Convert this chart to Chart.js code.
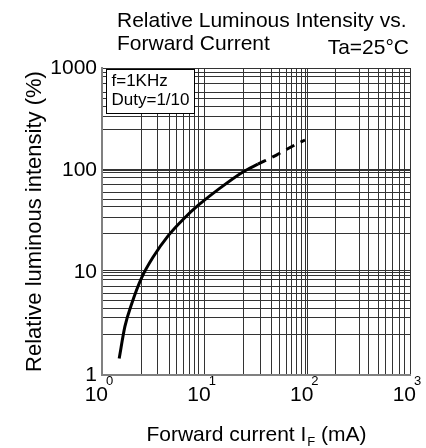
<!DOCTYPE html>
<html>
<head>
<meta charset="utf-8">
<script src="https://cdn.jsdelivr.net/npm/chart.js@4"></script>
<style>
  html, body { margin: 0; padding: 0; background: #fff; }
</style>
</head>
<body>
<canvas id="myChart" width="426" height="448"></canvas>
<script>
// Curve (IF in mA, intensity in %)
const currentSolid = [1.47, 1.67, 1.95, 2.43, 3.16, 4.42, 6.19, 8.67, 13.1, 23.8, 33];
const intensitySolid = [1.45, 2.97, 5.0, 8.9, 14.3, 23.0, 33.3, 45.6, 63.4, 97, 115];
const currentDashed = [33, 50, 70, 95];
const intensityDashed = [115, 141, 170, 198];

// Grid lines as they are drawn on the sheet (not a clean log grid)
const xGrid = [1, 2.42, 3.51, 4.52, 5.34, 6.22, 7.08, 7.92, 8.8, 10,
  23.8, 35, 45, 53, 62, 70, 79, 88, 95, 100,
  189, 325, 398, 495, 574, 677, 785, 886, 1000];
const yGrid = [1, 2.48, 3.61, 4.49, 5.37, 6.29, 7.36, 8.48, 9.43, 10, 10.5,
  23.9, 34.8, 44.2, 52.2, 61.1, 72, 85.6, 95, 100, 103,
  248, 335, 420, 499, 580, 699, 824, 910, 1000];

// Tick labels
const xDecades = [1, 10, 100, 1000];
const xExponents = ['0', '1', '2', '3'];
const yLabels = [1, 10, 100, 1000];

const FONT = '"Liberation Sans", Arial, sans-serif';

const toPoints = (xs, ys) => xs.map((x, i) => ({ x: x, y: ys[i] }));

// Texts that Chart.js can't place on its own (superscripts, subscript, note box)
const sheetText = {
  id: 'sheetText',
  afterDraw(chart) {
    const { ctx, chartArea, scales } = chart;
    ctx.save();
    ctx.fillStyle = '#000';
    ctx.textBaseline = 'middle';

    // heading
    ctx.font = '21px ' + FONT;
    ctx.textAlign = 'left';
    ctx.fillText('Relative Luminous Intensity vs.', 117, 21);
    ctx.fillText('Forward Current', 117, 44);
    ctx.textAlign = 'right';
    ctx.fillText('Ta=25°C', 409, 48);

    // y axis title
    ctx.save();
    ctx.translate(35, (chartArea.top + chartArea.bottom) / 2);
    ctx.rotate(-Math.PI / 2);
    ctx.textAlign = 'center';
    ctx.font = '22px ' + FONT;
    ctx.fillText('Relative luminous intensity (%)', 0, 0);
    ctx.restore();

    // x decade labels 10^n
    xDecades.forEach((v, i) => {
      const px = scales.x.getPixelForValue(v);
      ctx.font = '21px ' + FONT;
      ctx.textAlign = 'right';
      ctx.fillText('10', px + 6, 395);
      ctx.font = '13px ' + FONT;
      ctx.textAlign = 'left';
      ctx.fillText(xExponents[i], px + 4, 381);
    });

    // x axis title with subscript
    const a = 'Forward current I', b = 'F', c = ' (mA)';
    ctx.font = '21px ' + FONT;
    const wa = ctx.measureText(a).width, wc = ctx.measureText(c).width;
    ctx.font = '13px ' + FONT;
    const wb = ctx.measureText(b).width;
    let x0 = (chartArea.left + chartArea.right) / 2 - (wa + wb + wc) / 2;
    ctx.textAlign = 'left';
    ctx.font = '21px ' + FONT;
    ctx.fillText(a, x0, 435);
    ctx.font = '13px ' + FONT;
    ctx.fillText(b, x0 + wa + 1, 442);
    ctx.font = '21px ' + FONT;
    ctx.fillText(c, x0 + wa + wb + 1, 435);

    // conditions box
    const bx = chartArea.left + 4.5, by = chartArea.top + 1.5;
    ctx.fillStyle = '#fff';
    ctx.fillRect(bx, by, 88, 44);
    ctx.strokeStyle = '#000';
    ctx.lineWidth = 1;
    ctx.strokeRect(bx, by, 88, 44);
    ctx.fillStyle = '#000';
    ctx.font = '17px ' + FONT;
    ctx.fillText('f=1KHz', bx + 5, by + 12);
    ctx.fillText('Duty=1/10', bx + 5, by + 31);
    ctx.restore();
  }
};

const ctx = document.getElementById('myChart').getContext('2d');

new Chart(ctx, {
  type: 'line',
  data: {
    datasets: [{
      data: toPoints(currentSolid, intensitySolid),
      borderColor: '#000',
      borderWidth: 3,
      pointRadius: 0,
      cubicInterpolationMode: 'monotone'
    }, {
      data: toPoints(currentDashed, intensityDashed),
      borderColor: '#000',
      borderWidth: 3,
      borderDash: [9, 7],
      pointRadius: 0,
      cubicInterpolationMode: 'monotone'
    }]
  },
  options: {
    responsive: false,
    animation: false,
    layout: { padding: { top: 68, right: 16, bottom: 73, left: 0 } },
    plugins: { legend: { display: false }, tooltip: { enabled: false } },
    scales: {
      x: {
        type: 'logarithmic',
        min: 1,
        max: 1000,
        afterBuildTicks: (scale) => { scale.ticks = xGrid.map(v => ({ value: v })); },
        afterFit: (scale) => { scale.height = 0; },
        ticks: { display: false },
        grid: { color: '#333', lineWidth: 1, drawTicks: false },
        border: { color: '#808080', width: 2 }
      },
      y: {
        type: 'logarithmic',
        min: 1,
        max: 1000,
        afterBuildTicks: (scale) => { scale.ticks = yGrid.map(v => ({ value: v })); },
        afterFit: (scale) => { scale.width = 102; },
        ticks: {
          autoSkip: false,
          padding: 5,
          color: '#000',
          font: { family: FONT, size: 21 },
          callback: (v) => yLabels.includes(v) ? String(v) : ''
        },
        grid: { color: '#333', lineWidth: 1, drawTicks: false },
        border: { color: '#808080', width: 2 }
      }
    }
  },
  plugins: [sheetText]
});
</script>
</body>
</html>
